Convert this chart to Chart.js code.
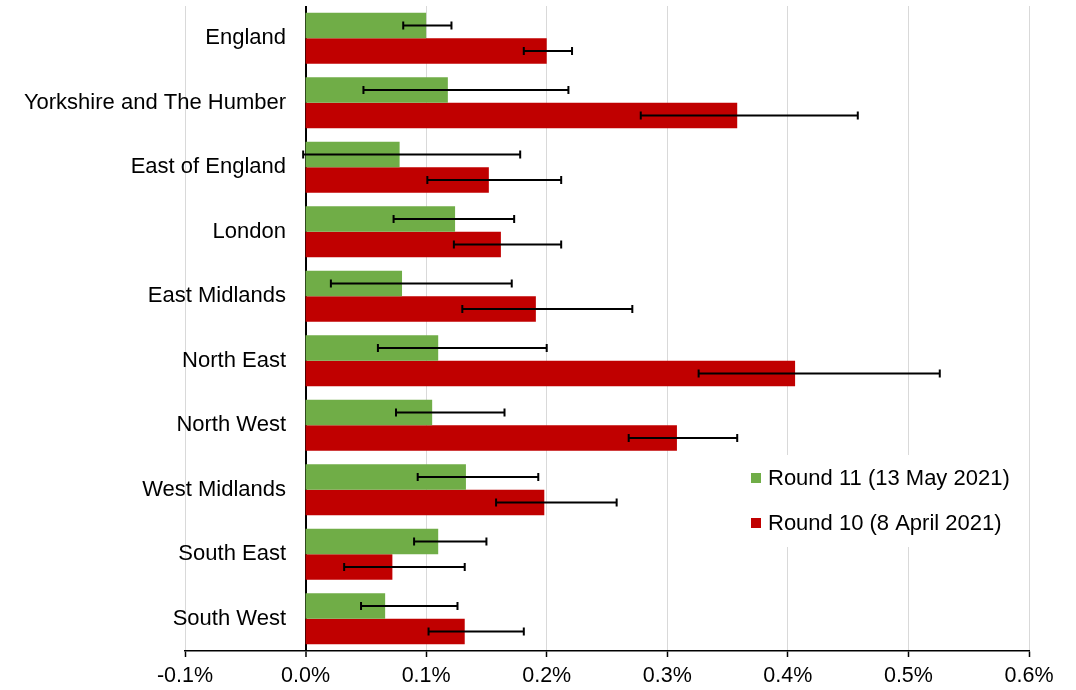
<!DOCTYPE html>
<html>
<head>
<meta charset="utf-8">
<script src="https://cdn.jsdelivr.net/npm/chart.js@4/dist/chart.umd.min.js"></script>
<style>
  html, body { margin: 0; padding: 0; background: #fff; }
  #wrap { position: relative; width: 1076px; height: 690px; }
</style>
</head>
<body>
<div id="wrap"><canvas id="regionChart"></canvas></div>
<script>
const categories = ['England', 'Yorkshire and The Humber', 'East of England', 'London', 'East Midlands',
                    'North East', 'North West', 'West Midlands', 'South East', 'South West'];

// Round 11 (13 May 2021) prevalence, % with 95% CI
const round11     = [0.100, 0.118, 0.078, 0.124, 0.080, 0.110, 0.105, 0.133, 0.110, 0.066];
const round11Low  = [0.081, 0.048, -0.002, 0.073, 0.021, 0.060, 0.075, 0.093, 0.090, 0.046];
const round11High = [0.121, 0.218, 0.178, 0.173, 0.171, 0.200, 0.165, 0.193, 0.150, 0.126];

// Round 10 (8 April 2021)
const round10     = [0.200, 0.358, 0.152, 0.162, 0.191, 0.406, 0.308, 0.198, 0.072, 0.132];
const round10Low  = [0.181, 0.278, 0.101, 0.123, 0.130, 0.326, 0.268, 0.158, 0.032, 0.102];
const round10High = [0.221, 0.458, 0.212, 0.212, 0.271, 0.526, 0.358, 0.258, 0.132, 0.181];

const xTickLabels = ['-0.1%', '0.0%', '0.1%', '0.2%', '0.3%', '0.4%', '0.5%', '0.6%'];

const FONT = "'Liberation Sans', Arial, sans-serif";
const LABEL_SIZE = 22;

// category labels sit over the plot, right edge ~101px right of the chart area's left edge
const measure = document.createElement('canvas').getContext('2d');
measure.font = LABEL_SIZE + 'px ' + FONT;
const widest = Math.max(...categories.map(c => measure.measureText(c).width));

const errorBars = {
    id: 'errorBars',
    afterDatasetsDraw(chart) {
        const { ctx, scales: { x } } = chart;
        ctx.save();
        ctx.strokeStyle = '#000';
        ctx.lineWidth = 2;
        chart.data.datasets.forEach((ds, i) => {
            chart.getDatasetMeta(i).data.forEach((bar, j) => {
                const x1 = x.getPixelForValue(ds.errLow[j]);
                const x2 = x.getPixelForValue(ds.errHigh[j]);
                const y = bar.y;
                ctx.beginPath();
                ctx.moveTo(x1, y); ctx.lineTo(x2, y);
                ctx.moveTo(x1, y - 4); ctx.lineTo(x1, y + 4);
                ctx.moveTo(x2, y - 4); ctx.lineTo(x2, y + 4);
                ctx.stroke();
            });
        });
        ctx.restore();
    }
};

const boxLegend = {
    id: 'boxLegend',
    afterDraw(chart) {
        const { ctx } = chart;
        ctx.save();
        ctx.fillStyle = '#fff';
        ctx.fillRect(742, 455, 280, 92);
        ctx.font = LABEL_SIZE + 'px ' + FONT;
        ctx.textBaseline = 'middle';
        chart.data.datasets.forEach((ds, i) => {
            const cy = 478 + i * 45;
            ctx.fillStyle = ds.backgroundColor;
            ctx.fillRect(751, cy - 5, 10, 10);
            ctx.fillStyle = '#000';
            ctx.fillText(ds.label, 768, cy + 1);
        });
        ctx.restore();
    }
};

const ctx = document.getElementById('regionChart').getContext('2d');

new Chart(ctx, {
    type: 'bar',
    data: {
        labels: categories,
        datasets: [
            {
                label: 'Round 11 (13 May 2021)',
                data: round11,
                errLow: round11Low,
                errHigh: round11High,
                backgroundColor: '#70AD47',
                barPercentage: 1.0,
                categoryPercentage: 0.79,
            },
            {
                label: 'Round 10 (8 April 2021)',
                data: round10,
                errLow: round10Low,
                errHigh: round10High,
                backgroundColor: '#C00000',
                barPercentage: 1.0,
                categoryPercentage: 0.79,
            },
        ],
    },
    options: {
        indexAxis: 'y',
        responsive: true,
        maintainAspectRatio: false,
        animation: false,
        layout: { padding: { left: 0, right: 47, top: 6, bottom: 0 } },
        plugins: {
            legend: { display: false },
            tooltip: { enabled: false },
        },
        scales: {
            x: {
                min: -0.1,
                max: 0.6,
                ticks: {
                    stepSize: 0.1,
                    padding: 6,
                    color: '#000',
                    font: { family: FONT, size: 21.5 },
                    callback: (value, index) => xTickLabels[index],
                },
                grid: {
                    color: (c) => Math.abs(c.tick?.value ?? 1) < 1e-9 ? '#000' : '#d9d9d9',
                    lineWidth: (c) => Math.abs(c.tick?.value ?? 1) < 1e-9 ? 2 : 1,
                    tickColor: '#000',
                    tickWidth: 1.5,
                    tickLength: 6,
                },
                border: { display: true, color: '#000', width: 1.5 },
                afterFit: (scale) => { scale.height = 39; },
            },
            y: {
                grid: { display: false, drawTicks: false },
                border: { display: false },
                ticks: {
                    mirror: true,
                    crossAlign: 'far',
                    padding: 101 - widest,
                    color: '#000',
                    font: { family: FONT, size: LABEL_SIZE },
                },
                afterFit: (scale) => { scale.width = 185; },
            },
        },
    },
    plugins: [errorBars, boxLegend],
});
</script>
</body>
</html>
